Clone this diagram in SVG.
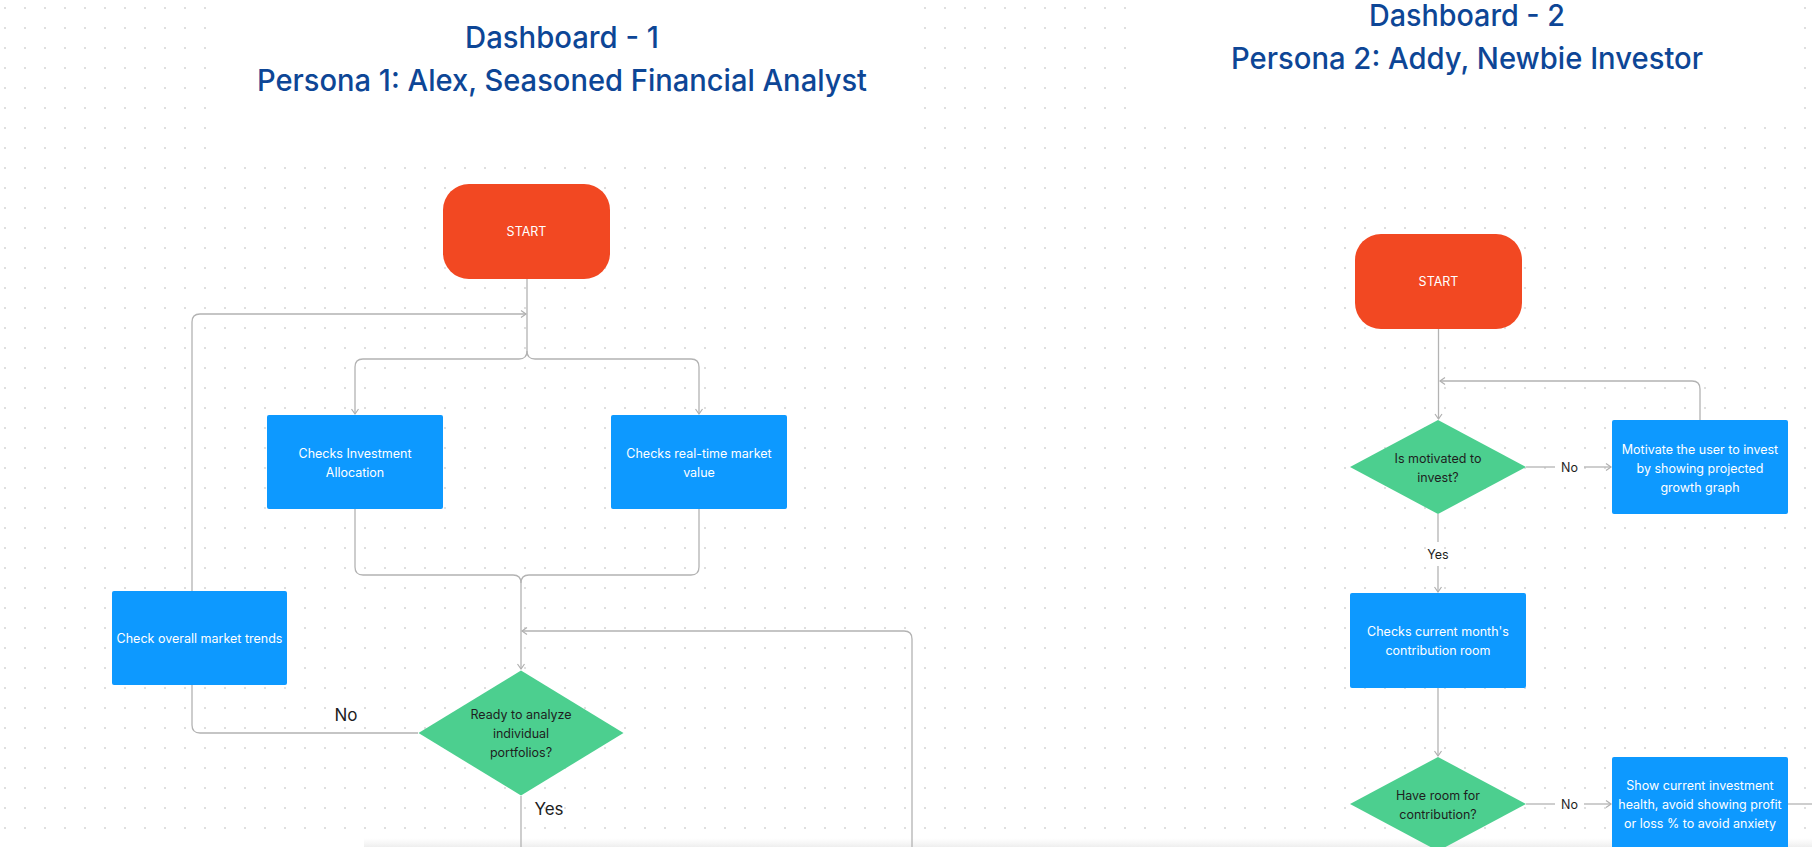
<svg xmlns="http://www.w3.org/2000/svg" width="1812" height="847" viewBox="0 0 1812 847">
  <defs>
    <pattern id="dots" x="0" y="0" width="20" height="20" patternUnits="userSpaceOnUse">
      <circle cx="5" cy="8" r="0.9" fill="#cfcfcf"/>
    </pattern>
    <marker id="arr" markerUnits="userSpaceOnUse" markerWidth="10" markerHeight="10" refX="6" refY="4" orient="auto">
      <path d="M1,0.5 L6,4 L1,7.5" fill="none" stroke="#b0b0b0" stroke-width="1.2"/>
    </marker>
    <linearGradient id="band" x1="0" y1="0" x2="0" y2="1">
      <stop offset="0" stop-color="#f2f2f2" stop-opacity="0"/>
      <stop offset="1" stop-color="#eeeeee" stop-opacity="1"/>
    </linearGradient>
  </defs>
  <style>
    .title { font-family: Inter, "Noto Sans", sans-serif; font-weight: 500; fill: #0d4696; text-anchor: middle; }
    .t30 { font-size: 30px; }
    .start { fill: #f24822; }
    .box { fill: #0d99ff; }
    .dia { fill: #4ccf8f; }
    .wt { font-family: Inter, "Noto Sans", sans-serif; font-size: 12.5px; fill: #ffffff; text-anchor: middle; dominant-baseline: central; }
    .dt { font-family: Inter, "Noto Sans", sans-serif; font-size: 12.5px; fill: #1e1e1e; text-anchor: middle; dominant-baseline: central; }
    .big { font-family: Inter, "Noto Sans", sans-serif; font-size: 17px; fill: #1e1e1e; text-anchor: middle; dominant-baseline: central; }
    .con { fill: none; stroke: #b3b3b3; stroke-width: 1.3; }
  </style>

  <rect x="0" y="0" width="1812" height="847" fill="#ffffff"/>
  <rect x="0" y="0" width="1812" height="847" fill="url(#dots)"/>
  <rect x="215" y="0" width="700" height="158" fill="#ffffff"/>
  <rect x="1135" y="0" width="660" height="118" fill="#ffffff"/>
  <rect x="364" y="838" width="1448" height="9" fill="url(#band)"/>

  <g id="title1">
    <text class="title t30" x="562" y="48" textLength="194" lengthAdjust="spacingAndGlyphs">Dashboard - 1</text>
    <text class="title t30" x="562" y="91" textLength="610" lengthAdjust="spacingAndGlyphs">Persona 1: Alex, Seasoned Financial Analyst</text>
  </g>
  <g id="title2">
    <text class="title t30" x="1467" y="26" textLength="196" lengthAdjust="spacingAndGlyphs">Dashboard - 2</text>
    <text class="title t30" x="1467" y="69" textLength="472" lengthAdjust="spacingAndGlyphs">Persona 2: Addy, Newbie Investor</text>
  </g>

  <g id="connectors">
    <!-- Dashboard 1 -->
    <path class="con" d="M527,279 V351 Q527,359 519,359 H363 Q355,359 355,367 V414" marker-end="url(#arr)"/>
    <path class="con" d="M527,351 Q527,359 535,359 H691 Q699,359 699,367 V414" marker-end="url(#arr)"/>
    <path class="con" d="M355,509 V567 Q355,575 363,575 H513 Q521,575 521,583 V669" marker-end="url(#arr)"/>
    <path class="con" d="M699,509 V567 Q699,575 691,575 H529 Q521,575 521,583"/>
    <path class="con" d="M192,591 V322 Q192,314 200,314 H526" marker-end="url(#arr)"/>
    <path class="con" d="M418,733 H200 Q192,733 192,725 V685"/>
    <path class="con" d="M912,847 V639 Q912,631 904,631 H522" marker-end="url(#arr)"/>
    <path class="con" d="M521,796 V847"/>
    <!-- Dashboard 2 -->
    <path class="con" d="M1438.5,329 V419" marker-end="url(#arr)"/>
    <path class="con" d="M1700,420 V389 Q1700,381 1692,381 H1440" marker-end="url(#arr)"/>
    <path class="con" d="M1526,467 H1555"/>
    <path class="con" d="M1584,467 H1611" marker-end="url(#arr)"/>
    <path class="con" d="M1438,514 V542"/>
    <path class="con" d="M1438,566 V592" marker-end="url(#arr)"/>
    <path class="con" d="M1438,688 V756" marker-end="url(#arr)"/>
    <path class="con" d="M1526,804 H1555"/>
    <path class="con" d="M1584,804 H1611" marker-end="url(#arr)"/>
    <path class="con" d="M1788,804 H1812"/>
    <text class="big" x="346" y="715">No</text>
    <text class="big" x="549" y="809">Yes</text>
    <text class="dt" x="1569.5" y="467">No</text>
    <text class="dt" x="1438" y="554.5">Yes</text>
    <text class="dt" x="1569.5" y="804.5">No</text>
  </g>

  <g id="start1">
    <rect class="start" x="443" y="184" width="167" height="95" rx="26" ry="26"/>
    <text class="wt" x="526.5" y="231.5">START</text>
  </g>
  <g id="inv-allocation">
    <rect class="box" x="267" y="415" width="176" height="94" rx="2"/>
    <text class="wt" x="355" y="453">Checks Investment</text>
    <text class="wt" x="355" y="472">Allocation</text>
  </g>
  <g id="market-value">
    <rect class="box" x="611" y="415" width="176" height="94" rx="2"/>
    <text class="wt" x="699" y="453">Checks real-time market</text>
    <text class="wt" x="699" y="472">value</text>
  </g>
  <g id="market-trends">
    <rect class="box" x="112" y="591" width="175" height="94" rx="2"/>
    <text class="wt" x="199.5" y="638">Check overall market trends</text>
  </g>
  <g id="ready-decision">
    <polygon class="dia" points="521,670.5 623.5,733 521,795.5 418.5,733"/>
    <text class="dt" x="521" y="714.5">Ready to analyze</text>
    <text class="dt" x="521" y="733.5">individual</text>
    <text class="dt" x="521" y="752.5">portfolios?</text>
  </g>

  <g id="start2">
    <rect class="start" x="1355" y="234" width="167" height="95" rx="26" ry="26"/>
    <text class="wt" x="1438.5" y="281.5">START</text>
  </g>
  <g id="motivated-decision">
    <polygon class="dia" points="1438,420 1526,467 1438,514 1350,467"/>
    <text class="dt" x="1438" y="458">Is motivated to</text>
    <text class="dt" x="1438" y="477">invest?</text>
  </g>
  <g id="motivate-box">
    <rect class="box" x="1612" y="420" width="176" height="94" rx="2"/>
    <text class="wt" x="1700" y="449">Motivate the user to invest</text>
    <text class="wt" x="1700" y="468">by showing projected</text>
    <text class="wt" x="1700" y="487">growth graph</text>
  </g>
  <g id="contribution-box">
    <rect class="box" x="1350" y="593" width="176" height="95" rx="2"/>
    <text class="wt" x="1438" y="631.5">Checks current month's</text>
    <text class="wt" x="1438" y="650.5">contribution room</text>
  </g>
  <g id="room-decision">
    <polygon class="dia" points="1438,757 1526,804 1438,851 1350,804"/>
    <text class="dt" x="1438" y="795">Have room for</text>
    <text class="dt" x="1438" y="814">contribution?</text>
  </g>
  <g id="show-health-box">
    <rect class="box" x="1612" y="757" width="176" height="94" rx="2"/>
    <text class="wt" x="1700" y="785.5">Show current investment</text>
    <text class="wt" x="1700" y="804.5">health, avoid showing profit</text>
    <text class="wt" x="1700" y="823.5">or loss % to avoid anxiety</text>
  </g>
</svg>
